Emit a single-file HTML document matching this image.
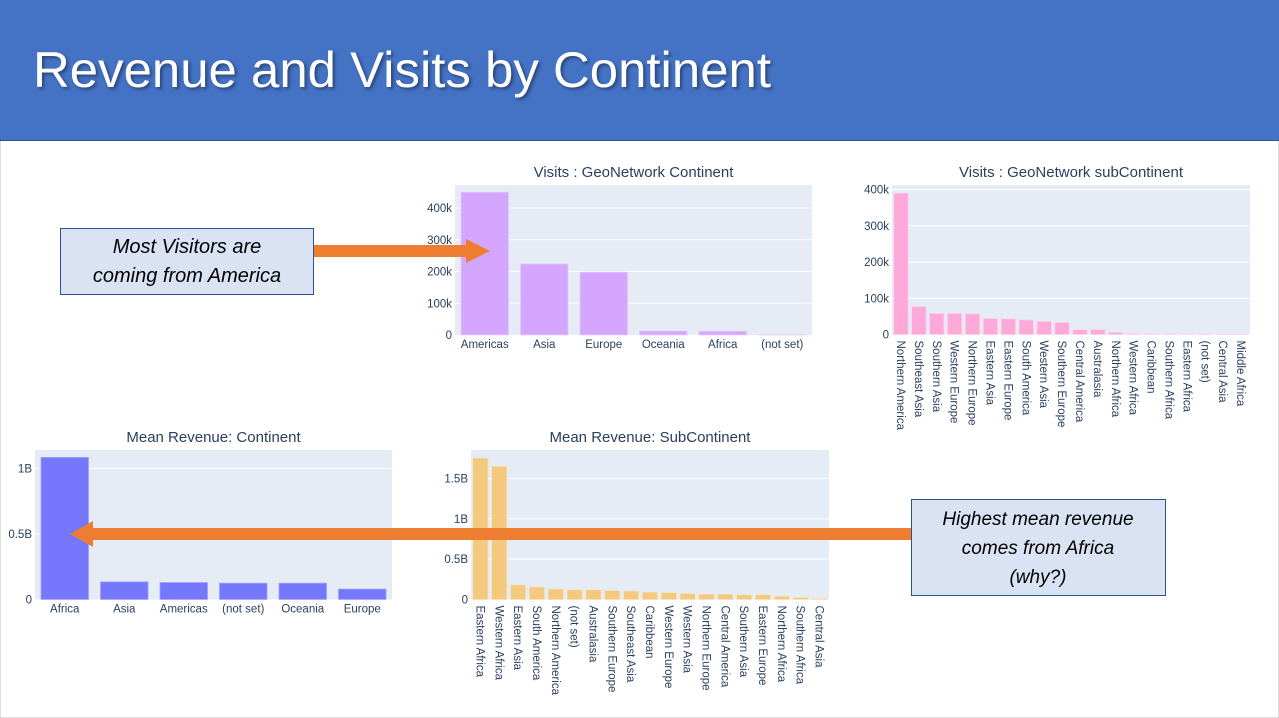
<!DOCTYPE html>
<html><head><meta charset="utf-8"><style>
body{margin:0;width:1279px;height:718px;overflow:hidden;background:#fff;font-family:"Liberation Sans",sans-serif}
svg{display:block}
</style></head><body>
<svg id="s" width="1279" height="718">
<rect x="0" y="0" width="1279" height="718" fill="#fff" stroke="#bbb"/>
<rect x="0" y="0" width="1279" height="140" fill="#4472C4"/>
<line x1="0" y1="140.5" x2="1279" y2="140.5" stroke="#2F528F" stroke-width="1"/>
<text x="33" y="87" fill="#fff" font-size="50" textLength="738" lengthAdjust="spacingAndGlyphs" style="text-shadow:2px 2px 3px rgba(0,0,0,0.4)">Revenue and Visits by Continent</text>
<g id="charts"></g>
<g id="annot">
<rect x="313" y="245" width="155" height="12" fill="#ED7D31"/>
<polygon points="466,239 490,251 466,263" fill="#ED7D31"/>
<rect x="60.5" y="228.5" width="253" height="66" fill="#DAE3F3" stroke="#2F528F"/>
<text x="187" y="253" text-anchor="middle" font-size="20" font-style="italic" fill="#000">Most Visitors are</text>
<text x="187" y="282" text-anchor="middle" font-size="20" font-style="italic" fill="#000">coming from America</text>
<rect x="93" y="528" width="818" height="12" fill="#ED7D31"/>
<polygon points="93,521 70,534 93,547" fill="#ED7D31"/>
<rect x="911.5" y="499.5" width="254" height="96" fill="#DAE3F3" stroke="#2F528F"/>
<text x="1038" y="525" text-anchor="middle" font-size="19" font-style="italic" fill="#000">Highest mean revenue</text>
<text x="1038" y="554" text-anchor="middle" font-size="19" font-style="italic" fill="#000">comes from Africa</text>
<text x="1038" y="583" text-anchor="middle" font-size="19" font-style="italic" fill="#000">(why?)</text>
</g>
</svg>
<script>
const c1Cats=["Americas","Asia","Europe","Oceania","Africa","(not set)"];
const c1Vals=[450000,224000,198000,13000,12000,1000];
const c1Ticks=[0,100000,200000,300000,400000];
const c1TickLabels=["0","100k","200k","300k","400k"];

const c2Cats=["Northern America","Southeast Asia","Southern Asia","Western Europe","Northern Europe","Eastern Asia","Eastern Europe","South America","Western Asia","Southern Europe","Central America","Australasia","Northern Africa","Western Africa","Caribbean","Southern Africa","Eastern Africa","(not set)","Central Asia","Middle Africa"];
const c2Vals=[390000,77000,58000,58000,57000,44000,43000,40000,36000,33000,13000,13000,6000,2500,2000,2000,1500,1000,500,500];
const c2Ticks=[0,100000,200000,300000,400000];
const c2TickLabels=["0","100k","200k","300k","400k"];

const c3Cats=["Africa","Asia","Americas","(not set)","Oceania","Europe"];
const c3Vals=[1.085e9,0.135e9,0.13e9,0.125e9,0.125e9,0.08e9];
const c3Ticks=[0,0.5e9,1e9];
const c3TickLabels=["0","0.5B","1B"];

const c4Cats=["Eastern Africa","Western Africa","Eastern Asia","South America","Northern America","(not set)","Australasia","Southern Europe","Southeast Asia","Caribbean","Western Europe","Western Asia","Northern Europe","Central America","Southern Asia","Eastern Europe","Northern Africa","Southern Africa","Central Asia"];
const c4Vals=[1.753e9,1.65e9,0.18e9,0.155e9,0.13e9,0.12e9,0.12e9,0.11e9,0.105e9,0.09e9,0.085e9,0.073e9,0.065e9,0.065e9,0.058e9,0.058e9,0.04e9,0.025e9,0.01e9];
const c4Ticks=[0,0.5e9,1e9,1.5e9];
const c4TickLabels=["0","0.5B","1B","1.5B"];

const NS="http://www.w3.org/2000/svg";
const root=document.getElementById('charts');
function mk(tag,attrs,parent){const e=document.createElementNS(NS,tag);for(const k in attrs)e.setAttribute(k,attrs[k]);parent.appendChild(e);return e;}

function chart(o,cats,vals,ticks,tickLabels){
  const g=mk('g',{},root);
  
  
  const bg=mk('rect',{x:o.x0,y:o.top,width:o.x1-o.x0,height:o.zero-o.top,fill:'#E5ECF6'},g);
  
  
  const t=mk('text',{x:(o.x0+o.x1)/2,y:o.top-8,'text-anchor':'middle','font-size':15,fill:'#2a3f5f'},g);
  t.textContent=o.title;
  
  
  const y=v=>o.zero-v*o.scale;
  ticks.forEach((v,i)=>{
    if(v>0){const l=mk('line',{x1:o.x0,x2:o.x1,y1:y(v),y2:y(v),stroke:'#fff','stroke-width':1},g);
      
      }
    const tl=mk('text',{x:o.x0-3,y:y(v)+4,'text-anchor':'end','font-size':11.5,fill:'#2a3f5f'},g);
    tl.textContent=tickLabels[i];
    
    
  });
  const n=cats.length,bw=(o.x1-o.x0)/n,pad=bw*0.1;
  const x=i=>o.x0+i*bw;
  cats.forEach((c,i)=>{
    const h=vals[i]*o.scale;
    const r=mk('rect',{x:x(i)+pad,y:o.zero-h,width:bw-2*pad,height:h,fill:o.color,stroke:o.stroke,'stroke-width':0.7},g);
    
    
    const cx=x(i)+bw/2;
    let lab;
    if(o.rot){lab=mk('text',{x:cx-4,y:o.zero+6,'font-size':11.5,fill:'#2a3f5f',transform:`rotate(90 ${cx-4} ${o.zero+6})`},g);}
    else{lab=mk('text',{x:cx,y:o.zero+13,'text-anchor':'middle','font-size':11.5,fill:'#2a3f5f'},g);}
    lab.textContent=c;
    
    
  });
}
chart({name:'visits-continent-chart',title:'Visits : GeoNetwork Continent',x0:455,x1:812,top:185,zero:335,scale:31.75/100000,color:'#D5A6FD',stroke:'#e6cffd'},c1Cats,c1Vals,c1Ticks,c1TickLabels);
chart({name:'visits-subcontinent-chart',title:'Visits : GeoNetwork subContinent',x0:892,x1:1250,top:185,zero:334.5,scale:36.25/100000,color:'#FFA8DA',stroke:'#ffd0ea',rot:true},c2Cats,c2Vals,c2Ticks,c2TickLabels);
chart({name:'revenue-continent-chart',title:'Mean Revenue: Continent',x0:35,x1:392,top:450,zero:599.5,scale:131/1e9,color:'#7577FC',stroke:'#a5a8fd'},c3Cats,c3Vals,c3Ticks,c3TickLabels);
chart({name:'revenue-subcontinent-chart',title:'Mean Revenue: SubContinent',x0:471,x1:829,top:450,zero:599.5,scale:80.7/1e9,color:'#F2C97D',stroke:'#f8e0b5',rot:true},c4Cats,c4Vals,c4Ticks,c4TickLabels);
document.getElementById('s').appendChild(document.getElementById('annot'));
</script>
</body></html>
